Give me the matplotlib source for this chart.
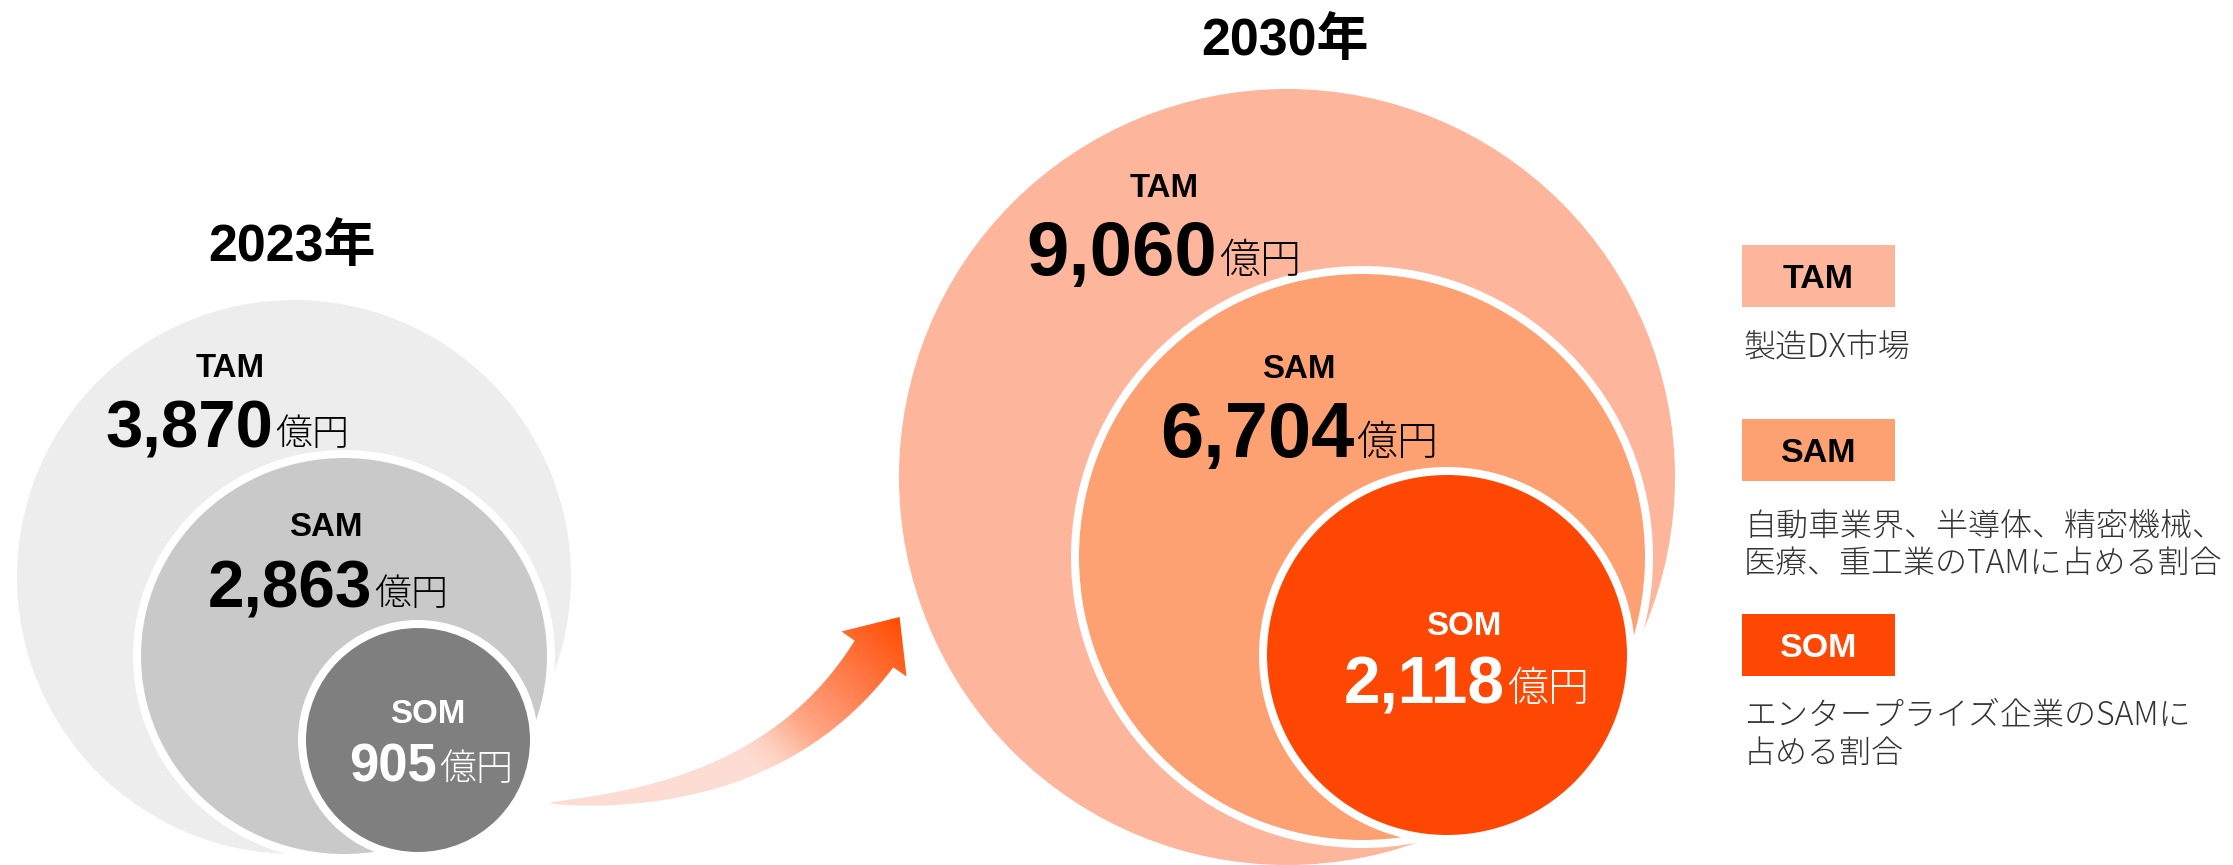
import numpy as np
import matplotlib.pyplot as plt
from matplotlib.patches import Ellipse, Rectangle, PathPatch
from matplotlib.path import Path
from matplotlib.colors import LinearSegmentedColormap

# データ
years = ['2023年', '2030年']
segments = ['TAM', 'SAM', 'SOM']
values_2023 = [3870, 2863, 905]
values_2030 = [9060, 6704, 2118]
unit = '億円'
legend_desc = [
    ['製造DX市場'],
    ['自動車業界、半導体、精密機械、', '医療、重工業のTAMに占める割合'],
    ['エンタープライズ企業のSAMに', '占める割合'],
]

# 色
colors_2023 = ['#EDEDED', '#C9C9C9', '#7F7F7F']
colors_2030 = ['#FDB69B', '#FDA072', '#FE4702']
text_colors = ['black', 'black', 'white']

# レイアウト (ピクセル座標, y は下向き)
W, H = 2233, 865
PT = 0.72  # 1px -> pt (dpi=100)
circ_2023 = [(294, 577, 277, 277), (344, 656, 207, 202), (418, 740, 116, 116)]
circ_2030 = [(1287, 477, 388, 388), (1362, 557, 287, 287), (1447, 655, 184, 184)]
lab_2023 = [(230, 377), (326, 536), (428, 723)]
lab_2030 = [(1164, 197), (1299, 378), (1464, 635)]
num_2023 = [(273, 447, 51), (372, 607, 50), (437, 782, 40)]
num_2030 = [(1217, 275, 58), (1354, 457, 59), (1505, 703, 50)]
unit_px_2023 = [37, 37, 37]
unit_px_2030 = [41, 41, 41]
title_pos = [(292, 261), (1285, 55)]

jp = 'Noto Sans CJK JP'
latin = 'Liberation Sans'

fig = plt.figure(figsize=(W / 100, H / 100), dpi=100)
ax = fig.add_axes([0, 0, 1, 1])
ax.axis('off')

# 円
for circ, cols in [(circ_2023, colors_2023), (circ_2030, colors_2030)]:
    for i, (cx, cy, rx, ry) in enumerate(circ):
        if i == 0:
            p = Ellipse((cx, cy), 2 * rx, 2 * ry, facecolor=cols[i], edgecolor='none', zorder=1)
        else:
            p = Ellipse((cx, cy), 2 * rx, 2 * ry, facecolor=cols[i], edgecolor='white',
                        linewidth=8 * PT, zorder=1 + i)
        ax.add_patch(p)

# ラベル
for vals, labs, nums, upx in [(values_2023, lab_2023, num_2023, unit_px_2023),
                              (values_2030, lab_2030, num_2030, unit_px_2030)]:
    for i, seg in enumerate(segments):
        c = text_colors[i]
        ax.text(labs[i][0], labs[i][1], seg, ha='center', va='baseline', color=c,
                family=latin, fontweight='bold', fontsize=33 * PT, zorder=10)
        x, y, h = nums[i]
        ax.text(x, y, f'{vals[i]:,}', ha='right', va='baseline', color=c,
                family=latin, fontweight='bold', fontsize=h / 0.76 * PT, zorder=10)
        ax.text(x + 2, y - 2, unit, ha='left', va='baseline', color=c,
                family=[jp], fontweight='light', fontsize=upx[i] * PT, zorder=10)

# 年
for (x, y), yr in zip(title_pos, years):
    ax.text(x, y, yr, ha='center', va='baseline', color='black',
            family=[latin, jp], fontweight='bold', fontsize=52 * PT)

# 矢印 (グラデーション)
T = np.array([549.0, 803.0])
C = np.array([773.0, 800.0])
Hb = np.array([874.0, 654.0])
t = np.linspace(0, 1, 80)
pts = (1 - t)[:, None] ** 2 * T + 2 * (t * (1 - t))[:, None] * C + (t ** 2)[:, None] * Hb
der = 2 * (1 - t)[:, None] * (C - T) + 2 * t[:, None] * (Hb - C)
tan = der / np.linalg.norm(der, axis=1)[:, None]
nrm = np.stack([tan[:, 1], -tan[:, 0]], axis=1)
w = 47 * t ** 0.7
upper = pts + nrm * (w / 2)[:, None]
lower = pts - nrm * (w / 2)[:, None]
tip = Hb + tan[-1] * 45
b1 = Hb + nrm[-1] * 39.6
b2 = Hb - nrm[-1] * 39.6
poly = np.vstack([upper, b1, tip, b2, lower[::-1]])
arrow = PathPatch(Path(poly, closed=False), facecolor='none', edgecolor='none')
ax.add_patch(arrow)

A = np.array([760.0, 770.0])
B = np.array([905.0, 620.0])
gx = np.linspace(540, 910, 300)
gy = np.linspace(605, 815, 200)
XX, YY = np.meshgrid(gx, gy)
d = B - A
S = ((XX - A[0]) * d[0] + (YY - A[1]) * d[1]) / (d @ d)
S = np.clip(S, 0, 1)
cmap = LinearSegmentedColormap.from_list(
    'arr', [(0, '#FDDDD3'), (0.1, '#FDD3C3'), (0.3, '#FFA888'), (0.65, '#FF7845'), (1, '#FF4B00')])
im = ax.imshow(S, cmap=cmap, vmin=0, vmax=1, origin='lower',
               extent=(gx[0], gx[-1], gy[0], gy[-1]), interpolation='bilinear', zorder=5)
im.set_clip_path(arrow)

# 凡例
box_x, box_w, box_h = 1742, 153, 62
box_y = [245, 419, 614]
desc_y = [[357], [536, 573], [725, 763]]
for i, seg in enumerate(segments):
    ax.add_patch(Rectangle((box_x, box_y[i]), box_w, box_h, facecolor=colors_2030[i],
                           edgecolor='none'))
    ax.text(box_x + box_w / 2, box_y[i] + box_h / 2 + 12, seg, ha='center', va='baseline',
            color=text_colors[i], family=latin, fontweight='bold', fontsize=34 * PT)
    for line, yy in zip(legend_desc[i], desc_y[i]):
        ax.text(1744, yy, line, ha='left', va='baseline', color='#333333',
                family=[jp], fontweight='light', fontsize=32 * PT)

ax.set_aspect('auto')
ax.set_xlim(0, W)
ax.set_ylim(H, 0)
fig.savefig('out.png', dpi=100)
